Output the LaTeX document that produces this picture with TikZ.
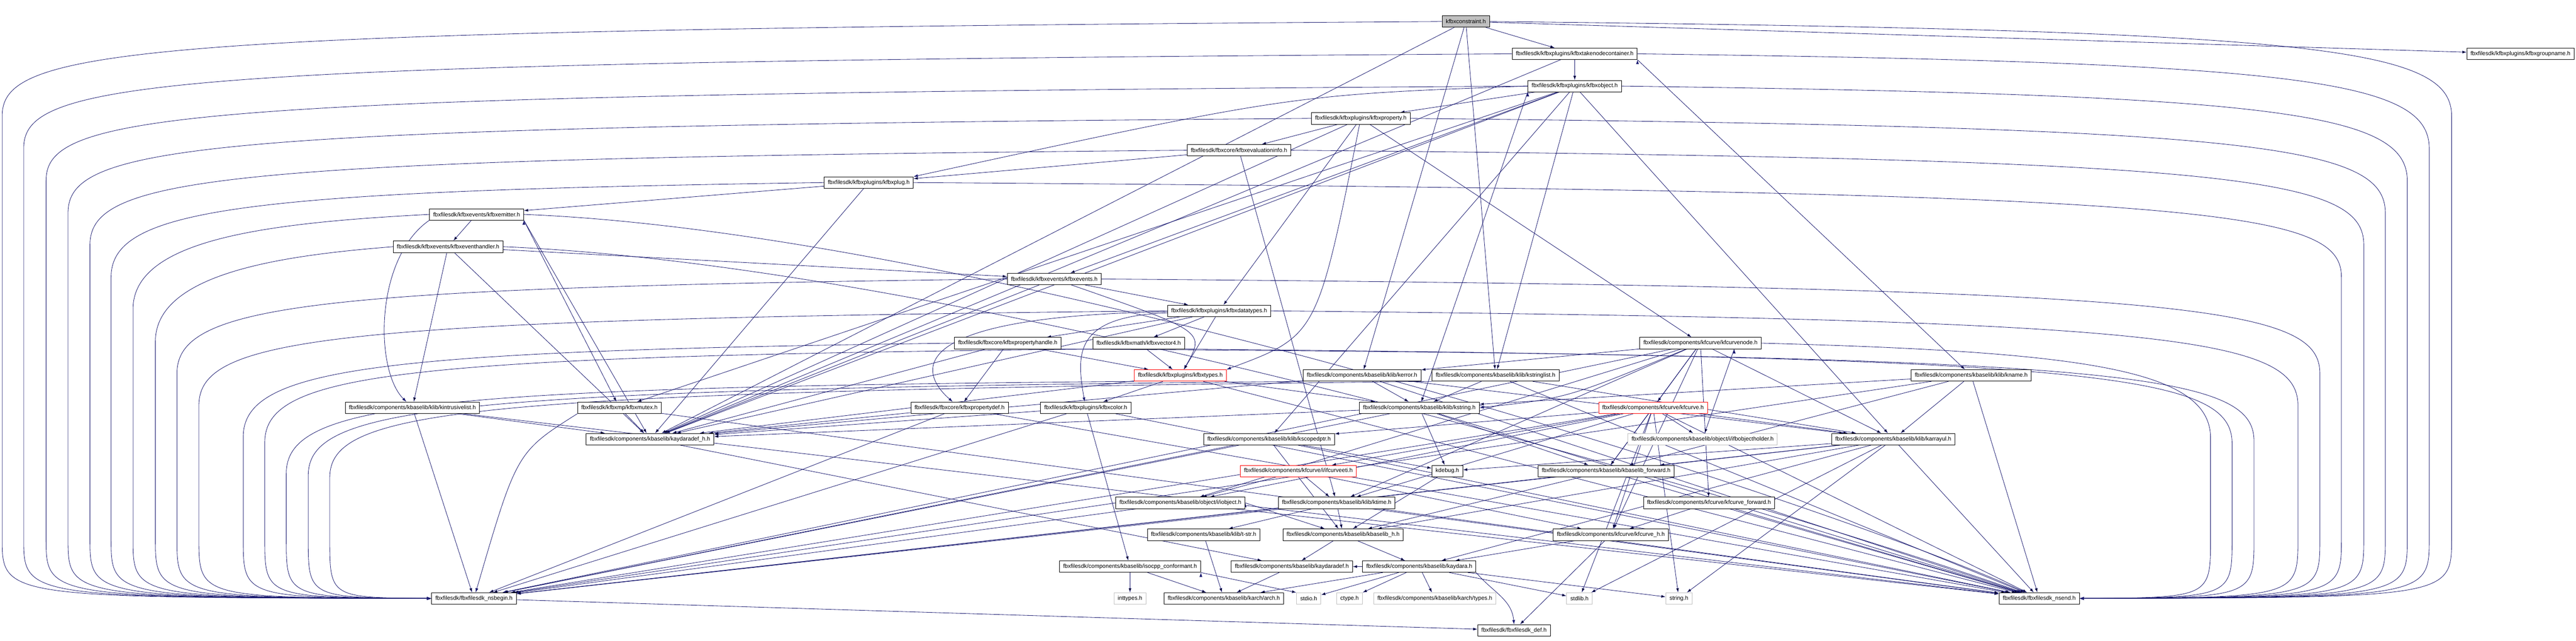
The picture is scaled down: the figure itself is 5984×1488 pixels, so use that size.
\documentclass[tikz,border=0pt]{standalone}
\usepackage{fontspec}
\setmainfont{Liberation Sans}
\usetikzlibrary{arrows.meta,backgrounds}

\definecolor{edgeblue}{HTML}{191970}
\definecolor{sysgrey}{HTML}{BFBFBF}

% edges that run down the outer lanes into the namespace headers
\newcommand{\lanebegin}[4]{\draw[dep] (#1.#2) .. controls (#3+300,#4) and (#3,#4+40) .. (#3,#4+200) -- (#3,1250) .. controls (#3,1388) .. (nsbegin.west);}
\newcommand{\laneend}[4]{\draw[dep] (#1.#2) .. controls (#3-300,#4) and (#3,#4+40) .. (#3,#4+200) -- (#3,1250) .. controls (#3,1388) .. (nsend.east);}

\begin{document}
\begin{tikzpicture}[x=0.75bp,y=-0.75bp]
\tikzstyle{hdr}=[draw=black,fill=white,line width=0.75bp,inner xsep=6.5bp,inner ysep=0pt,minimum height=20bp,font=\fontsize{10}{12}\selectfont]
\tikzstyle{hdrred}=[hdr,draw=red]
\tikzstyle{hdrsys}=[hdr,draw=sysgrey]
\tikzstyle{hdrroot}=[hdr,fill=sysgrey]
\tikzstyle{dep}=[draw=edgeblue,line width=0.75bp,-{Latex[length=7.5bp,width=5bp]}]

\useasboundingbox (0,0) rectangle (5984,1488);

\node[hdrroot] (constraint) at (3405,50) {kfbxconstraint.h};
\node[hdr] (takenode) at (3658,125) {fbxfilesdk/kfbxplugins/kfbxtakenodecontainer.h};
\node[hdr] (groupname) at (5855,125) {fbxfilesdk/kfbxplugins/kfbxgroupname.h};
\node[hdr] (object) at (3658,200) {fbxfilesdk/kfbxplugins/kfbxobject.h};
\node[hdr] (property) at (3161,275) {fbxfilesdk/kfbxplugins/kfbxproperty.h};
\node[hdr] (evalinfo) at (2878,349) {fbxfilesdk/fbxcore/kfbxevaluationinfo.h};
\node[hdr] (plug) at (2018,424) {fbxfilesdk/kfbxplugins/kfbxplug.h};
\node[hdr] (emitter) at (1107,498) {fbxfilesdk/kfbxevents/kfbxemitter.h};
\node[hdr] (evhandler) at (1041,573) {fbxfilesdk/kfbxevents/kfbxeventhandler.h};
\node[hdr] (events) at (2449,648) {fbxfilesdk/kfbxevents/kfbxevents.h};
\node[hdr] (datatypes) at (2832,722) {fbxfilesdk/kfbxplugins/kfbxdatatypes.h};
\node[hdr] (prophandle) at (2341,797) {fbxfilesdk/fbxcore/kfbxpropertyhandle.h};
\node[hdr] (vector4) at (2645,797) {fbxfilesdk/kfbxmath/kfbxvector4.h};
\node[hdr] (curvenode) at (3950,797) {fbxfilesdk/components/kfcurve/kfcurvenode.h};
\node[hdrred] (types) at (2742,872) {fbxfilesdk/kfbxplugins/kfbxtypes.h};
\node[hdr] (kerror) at (3164,872) {fbxfilesdk/components/kbaselib/klib/kerror.h};
\node[hdr] (kstringlist) at (3474,872) {fbxfilesdk/components/kbaselib/klib/kstringlist.h};
\node[hdr] (kname) at (4579,872) {fbxfilesdk/components/kbaselib/klib/kname.h};
\node[hdr] (intrusive) at (958,947) {fbxfilesdk/components/kbaselib/klib/kintrusivelist.h};
\node[hdr] (mutex) at (1439,947) {fbxfilesdk/kfbxmp/kfbxmutex.h};
\node[hdr] (propdef) at (2229,947) {fbxfilesdk/fbxcore/kfbxpropertydef.h};
\node[hdr] (color) at (2522,947) {fbxfilesdk/kfbxplugins/kfbxcolor.h};
\node[hdr] (kstring) at (3297,947) {fbxfilesdk/components/kbaselib/klib/kstring.h};
\node[hdrred] (kfcurve) at (3840,947) {fbxfilesdk/components/kfcurve/kfcurve.h};
\node[hdr] (aydefh) at (1510,1020) {fbxfilesdk/components/kbaselib/kaydaradef\_h.h};
\node[hdr] (scopedptr) at (2948,1020) {fbxfilesdk/components/kbaselib/klib/kscopedptr.h};
\node[hdrsys] (objholder) at (3955,1020) {fbxfilesdk/components/kbaselib/object/i/ifbobjectholder.h};
\node[hdr] (arrayul) at (4398,1020) {fbxfilesdk/components/kbaselib/klib/karrayul.h};
\node[hdrred] (ifcurveeti) at (3016,1094) {fbxfilesdk/components/kfcurve/i/ifcurveeti.h};
\node[hdr] (kdebug) at (3362,1094) {kdebug.h};
\node[hdr] (fwd) at (3731,1094) {fbxfilesdk/components/kbaselib/kbaselib\_forward.h};
\node[hdr] (iobject) at (2742,1168) {fbxfilesdk/components/kbaselib/object/i/iobject.h};
\node[hdr] (ktime) at (3105,1168) {fbxfilesdk/components/kbaselib/klib/ktime.h};
\node[hdr] (kfcfwd) at (3970,1168) {fbxfilesdk/components/kfcurve/kfcurve\_forward.h};
\node[hdr] (tstr) at (2796,1242) {fbxfilesdk/components/kbaselib/klib/t-str.h};
\node[hdr] (baselibh) at (3120,1242) {fbxfilesdk/components/kbaselib/kbaselib\_h.h};
\node[hdr] (kfcurveh) at (3742,1242) {fbxfilesdk/components/kfcurve/kfcurve\_h.h};
\node[hdr] (isocpp) at (2625,1316) {fbxfilesdk/components/kbaselib/isocpp\_conformant.h};
\node[hdr] (aydef) at (3001,1316) {fbxfilesdk/components/kbaselib/kaydaradef.h};
\node[hdr] (kaydara) at (3297,1316) {fbxfilesdk/components/kbaselib/kaydara.h};
\node[hdr] (nsbegin) at (1101,1390) {fbxfilesdk/fbxfilesdk\_nsbegin.h};
\node[hdrsys] (inttypes) at (2625,1390) {inttypes.h};
\node[hdr] (arch) at (2843,1390) {fbxfilesdk/components/kbaselib/karch/arch.h};
\node[hdrsys] (stdio) at (3040,1390) {stdio.h};
\node[hdrsys] (ctype) at (3135,1390) {ctype.h};
\node[hdrsys] (archtypes) at (3333,1390) {fbxfilesdk/components/kbaselib/karch/types.h};
\node[hdrsys] (stdlib) at (3669,1390) {stdlib.h};
\node[hdrsys] (string) at (3900,1390) {string.h};
\node[hdr] (nsend) at (4737,1390) {fbxfilesdk/fbxfilesdk\_nsend.h};
\node[hdr] (def) at (3517,1464) {fbxfilesdk/fbxfilesdk\_def.h};

\begin{scope}[on background layer]
% upper headers
\path[dep] (constraint) edge (takenode) edge (groupname) edge (kerror) edge (kstringlist) edge (aydefh);
\lanebegin{constraint}{west}{5}{70}
\laneend{constraint}{east}{5695}{70}

\path[dep] (takenode) edge (object) edge (aydefh);
\path[dep] (takenode.south east) edge (kname);
\lanebegin{takenode}{west}{55}{145}
\laneend{takenode}{east}{5643}{145}

\path[dep] (object) edge (property) edge (events) edge (kstringlist) edge (arrayul) edge (mutex) edge (scopedptr) edge (aydefh);
\path[dep] (object.south west) edge (kstring);
\draw[dep] (object.west) .. controls (3000,220) .. (plug.north east);
\lanebegin{object}{west}{107}{220}
\laneend{object}{east}{5592}{220}

\path[dep] (property) edge (evalinfo) edge (datatypes) edge (curvenode) edge (aydefh);
\draw[dep] (property) .. controls (3060,780) .. (types.north east);
\lanebegin{property}{west}{158}{295}
\laneend{property}{east}{5541}{295}

\path[dep] (evalinfo) edge (plug) edge (ktime);
\lanebegin{evalinfo}{west}{209}{369}
\laneend{evalinfo}{east}{5491}{369}

\path[dep] (plug) edge (emitter) edge (aydefh);
\lanebegin{plug}{west}{258}{444}
\laneend{plug}{east}{5439}{444}

% events
\path[dep] (emitter) edge (evhandler);
\path[dep] (emitter.south east) edge (mutex) edge (aydefh);
\draw[dep] (emitter.south west) .. controls (870,600) and (870,860) .. (intrusive);
\draw[dep] (emitter.east) .. controls (2300,540) and (4200,1150) .. (nsend);
\lanebegin{emitter}{west}{309}{518}

\path[dep] (evhandler) edge (intrusive) edge (events) edge (aydefh);
\draw[dep] (evhandler.east) .. controls (2300,620) and (4200,1200) .. (nsend);
\lanebegin{evhandler}{west}{361}{593}

\path[dep] (events) edge (datatypes) edge (aydefh);
\draw[dep] (events) .. controls (2800,770) .. (types);
\lanebegin{events}{west}{411}{668}
\laneend{events}{east}{5389}{668}

% data types
\path[dep] (datatypes) edge (prophandle) edge (vector4) edge (types) edge (aydefh);
\draw[dep] (datatypes) .. controls (2080,735) and (2140,870) .. (propdef);
\draw[dep] (datatypes) .. controls (2495,735) and (2500,820) .. (color);
\lanebegin{datatypes}{west}{462}{742}
\laneend{datatypes}{east}{5338}{742}

\path[dep] (prophandle) edge (propdef) edge (types) edge (aydefh);
\lanebegin{prophandle}{west}{565}{815}
\laneend{prophandle}{south east}{5236}{825}

\path[dep] (vector4) edge (types);
\lanebegin{vector4}{south west}{615}{828}
\laneend{vector4}{south east}{5185}{830}

% curves
\path[dep] (curvenode) edge (kerror) edge (kfcurve) edge (arrayul) edge (iobject) edge (kfcurveh) edge (kfcfwd) edge (ktime) edge (fwd) edge (nsbegin);
\path[dep] (curvenode.-10) edge (objholder);
\draw[dep] (curvenode) .. controls (3640,925) .. (kstring.east);
\laneend{curvenode}{east}{5135}{817}

\path[dep] (types) edge (color) edge (kstring) edge (aydefh) edge (nsend);
\lanebegin{types}{south west}{665}{900}

\path[dep] (kerror) edge (kstring) edge (arrayul) edge (aydefh) edge (nsend);
\lanebegin{kerror}{south west}{716}{905}

\path[dep] (kstringlist) edge (kstring) edge (arrayul) edge (nsend);
\lanebegin{kstringlist}{south west}{766}{910}

\path[dep] (kname) edge (kstring) edge (arrayul) edge (fwd) edge (nsbegin) edge (nsend);

\path[dep] (intrusive) edge (aydefh) edge (nsbegin) edge (nsend);
\path[dep] (mutex) edge (aydefh) edge (nsend);
\draw[dep] (mutex.south west) .. controls (1200,1050) .. (nsbegin);
\path[dep] (propdef) edge (aydefh) edge (nsbegin) edge (nsend);
\path[dep] (color) edge (isocpp) edge (aydefh) edge (nsbegin) edge (nsend);
\path[dep] (kstring) edge (kdebug) edge (fwd) edge (aydefh) edge (nsbegin) edge (nsend);
\path[dep] (kfcurve) edge (objholder) edge (ifcurveeti) edge (iobject) edge (kfcurveh) edge (ktime) edge (fwd) edge (arrayul) edge (scopedptr) edge (stdlib) edge (string) edge (nsbegin) edge (nsend);

% kbaselib
\path[dep] (aydefh) edge (aydef);
\path[dep] (scopedptr) edge (kdebug) edge (baselibh) edge (nsbegin) edge (nsend);
\path[dep] (arrayul) edge (kdebug) edge (baselibh) edge (fwd) edge (kaydara) edge (stdlib) edge (string) edge (nsbegin) edge (nsend);
\path[dep] (ifcurveeti) edge (iobject) edge (ktime) edge (kfcurveh);
\path[dep] (kdebug) edge (baselibh);
\path[dep] (fwd) edge (baselibh) edge (nsbegin) edge (nsend);
\path[dep] (iobject) edge (nsbegin) edge (nsend);
\path[dep] (iobject.east) edge (baselibh);
\path[dep] (ktime) edge (baselibh) edge (tstr) edge (nsbegin) edge (nsend);
\path[dep] (kfcfwd) edge (kfcurveh) edge (nsend);
\path[dep] (tstr) edge (arch);
\path[dep] (baselibh) edge (aydef) edge (kaydara);
\path[dep] (kfcurveh) edge (kaydara) edge (def);
\path[dep] (isocpp) edge (inttypes) edge (arch);
\path[dep] (isocpp.south east) edge (stdio.north west);
\path[dep] (aydef) edge (arch);
\path[dep] (kaydara) edge (aydef) edge (stdio) edge (ctype) edge (archtypes) edge (stdlib) edge (string) edge (arch);
\draw[dep] (kaydara.south east) .. controls (3466,1374) and (3512,1392) .. (def.north);
\path[dep] (nsbegin) edge (def);
\end{scope}
\end{tikzpicture}
\end{document}
